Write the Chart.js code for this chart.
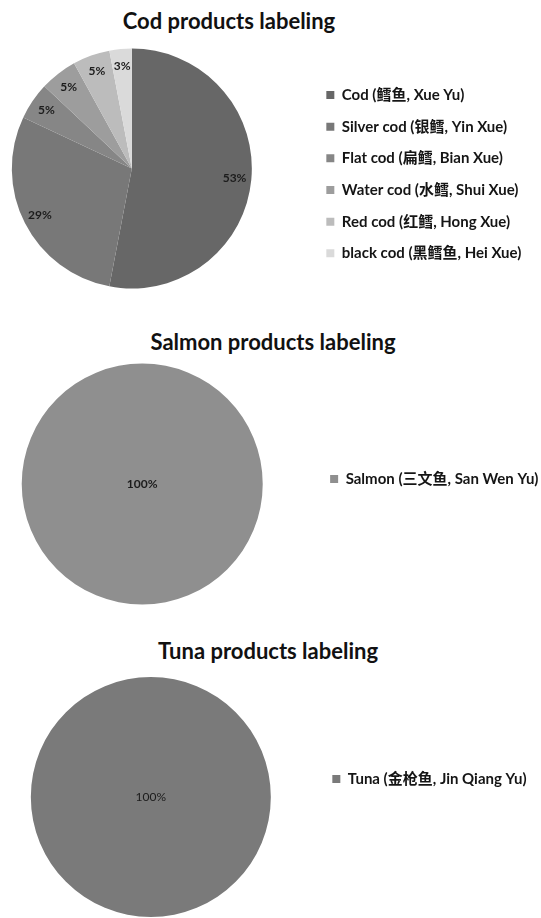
<!DOCTYPE html>
<html>
<head>
<meta charset="utf-8">
<script src="https://cdn.jsdelivr.net/npm/chart.js@4"></script>
<style>
  html, body { margin: 0; padding: 0; background: #fff; overflow: hidden; }
  #page { position: relative; width: 541px; height: 918px; overflow: hidden; }
  .chart-title {
    position: absolute;
    width: 400px;
    margin: 0;
    text-align: center;
    font: bold 22px/1.2 Lato, "Noto Sans CJK SC", sans-serif;
    color: #111;
    white-space: nowrap;
  }
  canvas { position: absolute; }
</style>
</head>
<body>
<div id="page">
  <h2 class="chart-title" id="codTitle"></h2>
  <canvas id="codChart"></canvas>
  <h2 class="chart-title" id="salmonTitle"></h2>
  <canvas id="salmonChart"></canvas>
  <h2 class="chart-title" id="tunaTitle"></h2>
  <canvas id="tunaChart"></canvas>
</div>
<script>
// ---- data ----
const codTitle = "Cod products labeling";
const codLabels = [
  "Cod (鳕鱼, Xue Yu)",
  "Silver cod (银鳕, Yin Xue)",
  "Flat cod (扁鳕, Bian Xue)",
  "Water cod (水鳕, Shui Xue)",
  "Red cod (红鳕, Hong Xue)",
  "black cod (黑鳕鱼, Hei Xue)",
];
const codShares = [53, 29, 5, 5, 5, 3];

const salmonTitle = "Salmon products labeling";
const salmonLabels = ["Salmon (三文鱼, San Wen Yu)"];
const salmonShares = [100];

const tunaTitle = "Tuna products labeling";
const tunaLabels = ["Tuna (金枪鱼, Jin Qiang Yu)"];
const tunaShares = [100];

// ---- styles ----
const COD_COLORS = ["#676767", "#787878", "#868686", "#9d9d9d", "#bcbcbc", "#dadada"];
const SALMON_COLOR = "#8f8f8f";
const TUNA_COLOR = "#7a7a7a";
const FONT_FAMILY = 'Lato, "Noto Sans CJK SC", sans-serif';
const LEGEND_FONT_SIZE = 15;
const LEGEND_BOX = 8;
const LEGEND_PADDING = 16.67;

// draws "NN%" inside each slice (centre for a full circle)
const percentLabels = {
  id: "percentLabels",
  afterDatasetsDraw(chart, args, opts) {
    const { ctx } = chart;
    const meta = chart.getDatasetMeta(0);
    const values = chart.data.datasets[0].data;

    ctx.save();
    ctx.font = `${opts.weight} ${opts.size}px ${FONT_FAMILY}`;
    ctx.fillStyle = "#1c1c1c";
    ctx.textAlign = "center";
    ctx.textBaseline = "middle";

    meta.data.forEach((arc, i) => {
      const { x, y, startAngle, endAngle, outerRadius } = arc.getProps(
        ["x", "y", "startAngle", "endAngle", "outerRadius"],
        true,
      );
      const full = endAngle - startAngle > 2 * Math.PI - 0.001;
      const mid = (startAngle + endAngle) / 2;
      const dist = full ? 0 : outerRadius * opts.distance;

      ctx.fillText(`${values[i]}%`, x + Math.cos(mid) * dist, y + Math.sin(mid) * dist);
    });

    ctx.restore();
  },
};

function setTitle(id, text, centerX, top) {
  const el = document.getElementById(id);
  el.textContent = text;
  el.style.left = `${centerX - 200}px`;
  el.style.top = `${top}px`;
}

// same sum Chart.js makes for a vertical legend: padding + box + gap + text + 10
function legendWidth(labels) {
  const ctx = document.createElement("canvas").getContext("2d");
  ctx.font = `bold ${LEGEND_FONT_SIZE}px ${FONT_FAMILY}`;
  const widest = Math.max(...labels.map((text) => ctx.measureText(text).width));
  return LEGEND_PADDING + LEGEND_BOX + LEGEND_FONT_SIZE / 2 + widest + 10;
}

// spot: pie centre/radius, where the first legend square sits, and the canvas band
function makePie(id, labels, values, colors, spot) {
  const canvas = document.getElementById(id);
  const step = LEGEND_FONT_SIZE + LEGEND_PADDING;
  const area = 2 * (spot.legendX - LEGEND_PADDING - spot.cx);
  const left = spot.cx - area / 2;
  const boxWidth = area + legendWidth(labels);
  const width = Math.ceil(boxWidth);

  let legendTop;
  let legendBottom;
  if (spot.align === "end") {
    legendBottom = spot.legendY - LEGEND_FONT_SIZE / 2 + labels.length * step;
    legendTop = 2 * spot.cy - legendBottom;
  } else {
    legendTop = spot.legendY - LEGEND_FONT_SIZE / 2 - LEGEND_PADDING;
    legendBottom = 2 * spot.cy - legendTop;
  }

  canvas.width = width;
  canvas.height = spot.bottom - spot.top;
  canvas.style.left = `${left}px`;
  canvas.style.top = `${spot.top}px`;

  return new Chart(canvas, {
    type: "pie",
    data: {
      labels,
      datasets: [
        {
          data: values,
          backgroundColor: colors,
          borderWidth: 0,
          radius: spot.radius,
          clip: false,
        },
      ],
    },
    options: {
      responsive: false,
      animation: false,
      events: [],
      layout: {
        padding: {
          top: legendTop - spot.top,
          bottom: spot.bottom - legendBottom,
          left: 0,
          right: width - boxWidth,
        },
      },
      plugins: {
        title: { display: false },
        tooltip: { enabled: false },
        legend: {
          position: "right",
          align: spot.align,
          labels: {
            boxWidth: LEGEND_BOX,
            boxHeight: LEGEND_BOX,
            padding: LEGEND_PADDING,
            color: "#151515",
            font: { family: FONT_FAMILY, size: LEGEND_FONT_SIZE, weight: "bold" },
          },
        },
        percentLabels: { size: 12, weight: spot.labelWeight, distance: 0.86 },
      },
    },
    plugins: [percentLabels],
  });
}

setTitle("codTitle", codTitle, 229, 8);
setTitle("salmonTitle", salmonTitle, 273, 329);
setTitle("tunaTitle", tunaTitle, 268, 638);

makePie("codChart", codLabels, codShares, COD_COLORS, {
  cx: 132, cy: 168.5, radius: 120, legendX: 326.5, legendY: 95, align: "end",
  top: 40, bottom: 295, labelWeight: "bold",
});
makePie("salmonChart", salmonLabels, salmonShares, [SALMON_COLOR], {
  cx: 142.6, cy: 484, radius: 120.5, legendX: 330.5, legendY: 479, align: "start",
  top: 360, bottom: 608, labelWeight: "bold",
});
makePie("tunaChart", tunaLabels, tunaShares, [TUNA_COLOR], {
  cx: 150.5, cy: 797, radius: 120, legendX: 332, legendY: 779, align: "start",
  top: 672, bottom: 918, labelWeight: "normal",
});
</script>
</body>
</html>
